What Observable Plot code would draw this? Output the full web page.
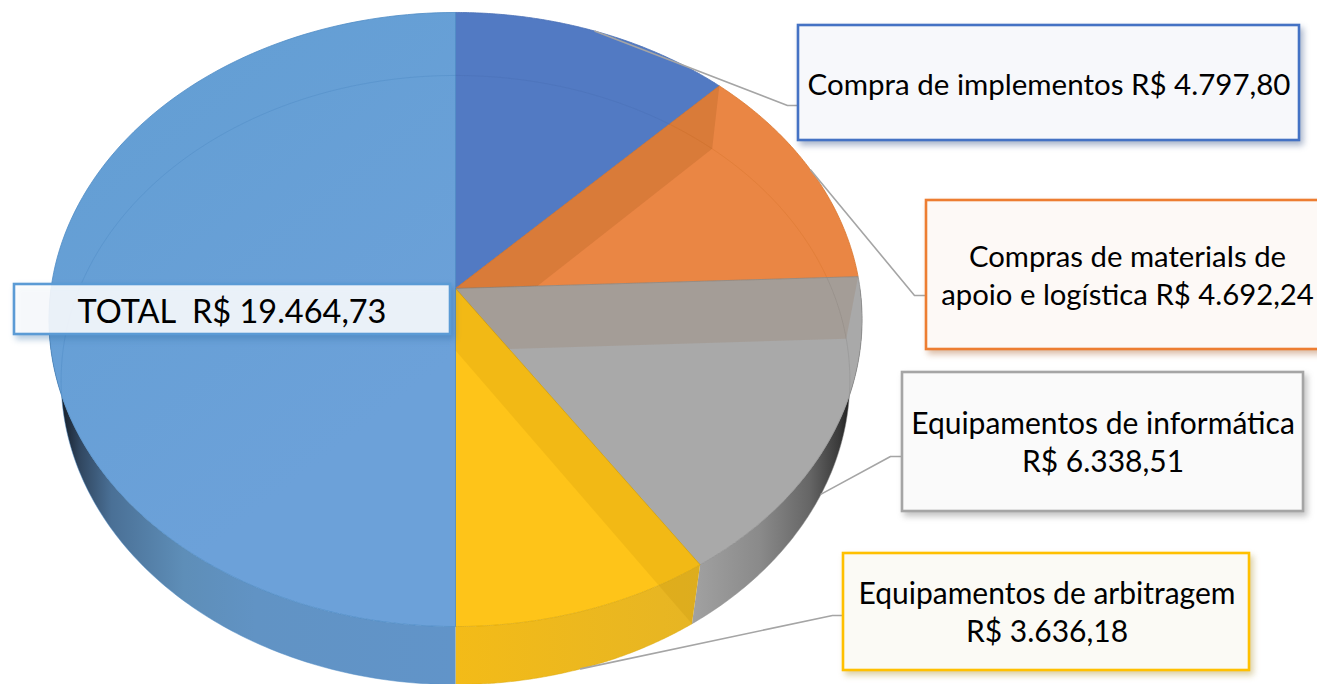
<!DOCTYPE html>
<html>
<head>
<meta charset="utf-8">
<script src="https://cdn.jsdelivr.net/npm/d3@7"></script>
<script src="https://cdn.jsdelivr.net/npm/@observablehq/plot@0.6"></script>
<style>html,body{margin:0;padding:0;background:#fff;overflow:hidden}svg{display:block}</style>
</head>
<body>
<script>
// DATA
const categories = ["Compra de implementos", "Compras de materiaIs de apoio e logística", "Equipamentos de informática", "Equipamentos de arbitragem", "TOTAL"];
const values = [4797.80, 4692.24, 6338.51, 3636.18, 19464.73];
const labels = ["Compra de implementos R$ 4.797,80", "Compras de materiaIs de\napoio e logística R$ 4.692,24", "Equipamentos de informática\nR$ 6.338,51", "Equipamentos de arbitragem\nR$ 3.636,18", "TOTAL  R$ 19.464,73"];
const sliceFill = ["#527ac3", "#ea8644", "#a9a9a9", "#fec419", "url(#topBlue)"];
const sliceEdge = ["#4a6fb5", "#d9782f", "#8f8f8f", "#dca90c", "#4f8cc6"];
const boxStroke = ["#4472c4", "#ed7d31", "#a5a5a5", "#ffc000", "#5b9bd5"];
const boxFill = ["#f7f8fb", "#fdf9f6", "#fafafa", "#fbfaf5", "#ffffff"];
const boxOpacity = [1, 1, 1, 1, 0.88];
const boxShadow = ["#27467e", "#a65a22", "#666666", "#a58a20", "#2f6ea8"];
const bandFill = ["#783c00", "#8e6038", "#ad8100"];
const wallFill = ["url(#wallRight)", "url(#wallGold)", "url(#wallLeft)"];

// LAYOUT
const W = 1317, H = 684;
const topDisc = {cx: 455, cy: 288, a: 303.9, b: 404.5, k: 0.101};
const botDisc = {cx: 455, cy: 350, a: 301.7, b: 392.5, k: 0.097};
const boxes = [[798, 25, 1299, 140], [926, 200, 1335, 349], [902, 372, 1303, 511], [843, 553, 1249, 670], [14, 284, 450, 334]];
const textPos = [[1048.5, 82.5], [1127, 273.5], [1102.5, 440.5], [1046.5, 610.5], [231.5, 310]];
const textSize = [29.5, 29.3, 30, 30, 32.5];
const elbow = [[787, 105], [914, 295], [890, 456], [832, 615]];

// GEOMETRY from the values
const total = d3.sum(values);
const ends = d3.cumsum(values).map(v => v / total * 2 * Math.PI);
const starts = [0, ...ends.slice(0, -1)];
const rim = (d, t) => {
  const u = Math.sin(t), v = -Math.cos(t), s = 1 / (1 - d.k * v);
  return {x: d.cx + d.b * u * s, y: d.cy + d.a * v * s};
};
// is a picture point on the top face of slice i?
const onSlice = (p, i) => {
  const X = p.x - topDisc.cx, Y = p.y - topDisc.cy;
  const v = Y / (topDisc.a + topDisc.k * Y), u = X * (1 - topDisc.k * v) / topDisc.b;
  if (u * u + v * v > 1) return false;
  let t = Math.atan2(u, -v);
  if (t < 0) t += 2 * Math.PI;
  return t >= starts[i] && t <= ends[i];
};
const arc = (d, t0, t1) => d3.range(0, 121).map(i => rim(d, t0 + (t1 - t0) * i / 120));
const apex = d => ({x: d.cx, y: d.cy});
const cross = (p1, p2, p3, p4) => {
  const d = (p1.x - p2.x) * (p3.y - p4.y) - (p1.y - p2.y) * (p3.x - p4.x);
  const a = p1.x * p2.y - p1.y * p2.x, b = p3.x * p4.y - p3.y * p4.x;
  return {x: (a * (p3.x - p4.x) - (p1.x - p2.x) * b) / d, y: (a * (p3.y - p4.y) - (p1.y - p2.y) * b) / d};
};
const close = pts => [...pts, pts[0]];

const slicePolys = values.map((_, i) => close([apex(topDisc), ...arc(topDisc, starts[i], ends[i])]));
const bands = [0, 1, 2].map(i => close([
  apex(topDisc), rim(topDisc, ends[i]), rim(botDisc, ends[i]),
  cross(apex(botDisc), rim(botDisc, ends[i]), apex(topDisc), rim(topDisc, ends[i + 1]))
]));
const wallRanges = [[Math.PI / 2, ends[2]], [ends[2], ends[3]], [ends[3], 3 * Math.PI / 2]];
const walls = wallRanges.map(([a, b]) => close([...arc(topDisc, a, b), ...arc(botDisc, a, b).reverse()]));
const ringPoints = d3.range(0, 1441).map(j => rim(botDisc, j / 1440 * 2 * Math.PI));
const rings = values.map((_, i) => ringPoints.filter(p => onSlice(p, i)));
const leaderAnchors = [rim(topDisc, (starts[0] + ends[0]) / 2), rim(topDisc, (starts[1] + ends[1]) / 2), rim(botDisc, (starts[2] + ends[2]) / 2), rim(botDisc, (starts[3] + ends[3]) / 2)];
const leaders = leaderAnchors.map((p, i) => [p, {x: elbow[i][0], y: elbow[i][1]}, {x: boxes[i][0], y: elbow[i][1]}]);

const defs = `
<linearGradient id="topBlue" gradientUnits="userSpaceOnUse" x1="100" y1="20" x2="400" y2="400"><stop offset="0" stop-color="#629ed3"/><stop offset="1" stop-color="#6ca1d9"/></linearGradient>
<linearGradient id="wallLeft" gradientUnits="userSpaceOnUse" x1="55" y1="0" x2="455" y2="0"><stop offset="0" stop-color="#0e1218"/><stop offset="0.06" stop-color="#30465f"/><stop offset="0.14" stop-color="#4a7096"/><stop offset="0.32" stop-color="#5e8eb8"/><stop offset="0.5" stop-color="#6193c4"/><stop offset="1" stop-color="#6194c9"/></linearGradient>
<linearGradient id="wallRight" gradientUnits="userSpaceOnUse" x1="855" y1="0" x2="690" y2="0"><stop offset="0" stop-color="#0f0f0f"/><stop offset="0.1" stop-color="#3a3a3a"/><stop offset="0.28" stop-color="#666666"/><stop offset="0.58" stop-color="#8a8a8a"/><stop offset="1" stop-color="#a2a2a2"/></linearGradient>
<linearGradient id="wallGold" gradientUnits="userSpaceOnUse" x1="455" y1="0" x2="700" y2="0"><stop offset="0" stop-color="#f3bb18"/><stop offset="1" stop-color="#e6b524"/></linearGradient>`;

const poly = (pts, o) => Plot.line(pts, {x: "x", y: "y", curve: "linear", ...o});

const marks = [
  () => d3.create("svg:defs").html(defs).node(),
  ...walls.map((w, i) => poly(w, {fill: wallFill[i], stroke: "none"})),
  ...walls.map((w, i) => poly(arc(botDisc, ...wallRanges[i]), {stroke: sliceEdge[[2, 3, 4][i]], strokeOpacity: 0.5, strokeWidth: 1})),
  ...slicePolys.map((s, i) => poly(s, {fill: sliceFill[i], stroke: sliceEdge[i], strokeWidth: 1, strokeOpacity: 0.8})),
  ...rings.map((r, i) => poly(r, {stroke: sliceEdge[i], strokeWidth: 1, strokeOpacity: 0.5})),
  ...bands.map((b, i) => poly(b, {fill: bandFill[i], fillOpacity: 0.15, stroke: "none"})),
  ...leaders.map(l => poly(l, {stroke: "#a5a5a5", strokeWidth: 1.6})),
  ...boxes.map((b, i) => Plot.rect([b], {
    x1: d => d[0], y1: d => d[1], x2: d => d[2], y2: d => d[3],
    fill: boxFill[i], fillOpacity: boxOpacity[i], stroke: boxStroke[i], strokeWidth: 2.6,
    imageFilter: `drop-shadow(3px 4px 3px ${boxShadow[i]}66)`
  })),
  ...labels.map((t, i) => Plot.text([t], {
    x: () => textPos[i][0], y: () => textPos[i][1], text: d => d,
    fontSize: textSize[i], lineHeight: 38 / textSize[i], fill: "#000", textAnchor: "middle",
    fontFamily: "Lato"
  }))
];

const chart = Plot.plot({
  width: W, height: H, margin: 0,
  style: {background: "#fff", fontFamily: "Lato"},
  x: {domain: [0, W], range: [0, W], axis: null},
  y: {domain: [0, H], range: [0, H], axis: null},
  marks
});
document.body.appendChild(chart);
</script>
</body>
</html>
